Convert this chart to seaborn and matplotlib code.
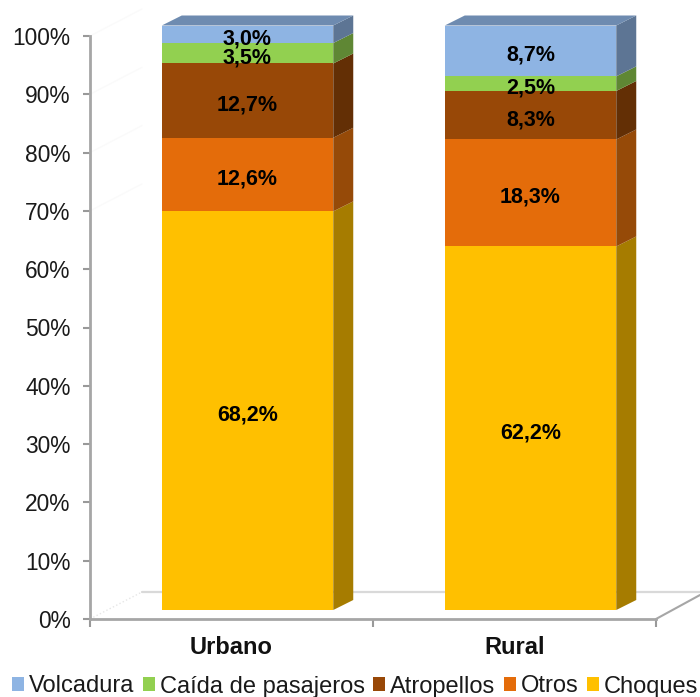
import matplotlib
matplotlib.use("Agg")
import matplotlib.pyplot as plt
from matplotlib.patches import Patch, Polygon
import numpy as np
import seaborn as sns

zonas = ["Urbano", "Rural"]
choques = [68.2, 62.2]
otros = [12.6, 18.3]
atropellos = [12.7, 8.3]
caida = [3.5, 2.5]
volcadura = [3.0, 8.7]
series_names = ["Choques", "Otros", "Atropellos", "Caída de pasajeros", "Volcadura"]
y_ticks = [0, 10, 20, 30, 40, 50, 60, 70, 80, 90, 100]

colors = ["#FFC000", "#E46C0A", "#984807", "#92D050", "#8EB4E3"]
side_colors = ["#A67C00", "#964A08", "#632F05", "#5F8734", "#5D7594"]
top_color = "#6E8BB0"
W, H = 700, 697

sns.set_theme(style="white")
plt.rcParams["font.family"] = ["Liberation Sans", "DejaVu Sans"]

fig = plt.figure(figsize=(W / 100, H / 100), dpi=100)

# main axes only carries the axis lines and tick labels
ax = fig.add_axes([90 / W, 1 - 619 / H, 566 / W, 583 / H])
ax.set_xlim(-0.5, 1.5)
ax.set_ylim(0, 100)
ax.set_yticks(y_ticks)
ax.set_yticklabels([f"{t}%" for t in y_ticks], fontsize=16.4, color="#1a1a1a")
ax.set_xticks([0, 1])
ax.set_xticklabels(zonas, fontsize=17, fontweight="bold", color="#111111")
ax.set_xticks([-0.5, 0.5, 1.5], minor=True)
ax.tick_params(axis="x", which="major", length=0, pad=12)
ax.tick_params(axis="x", which="minor", length=6, width=1.5, color="#999999", bottom=True)
ax.tick_params(axis="y", length=5, width=1.5, color="#999999", pad=9, left=True)
sns.despine(ax=ax)
for s in ["left", "bottom"]:
    ax.spines[s].set_color("#A6A6A6")
    ax.spines[s].set_linewidth(2)

# floor of the 3d box, and the faint wall lines
dx_floor = 52 / 283
dy_floor = 27 / 5.83
ax.plot([-0.5, -0.5 + dx_floor], [0, dy_floor], color="#e6e6e6", lw=1, ls=":", clip_on=False)
ax.plot([-0.5 + dx_floor, 1.5 + 44 / 283], [dy_floor, dy_floor], color="#d9d9d9", lw=1.6, clip_on=False)
ax.plot([1.5, 1.5 + 44 / 283], [0, 24 / 5.83], color="#a6a6a6", lw=1.5, clip_on=False)
for t in y_ticks[7:]:
    ax.plot([-0.5, -0.5 + dx_floor], [t, t + dy_floor], color="#fafafa", lw=1, clip_on=False)

# bars sit on their own axes, shifted to the front plane
ax2 = fig.add_axes([106 / W, 1 - 610 / H, 566 / W, 584.5 / H])
ax2.patch.set_alpha(0)
ax2.axis("off")

stack = [choques, otros, atropellos, caida, volcadura]
bottom = np.zeros(2)
dx = 20 / 283
dy = 10 / 5.845
for vals, name, c, sc in zip(stack, series_names, colors, side_colors):
    vals = np.array(vals)
    sns.barplot(x=zonas, y=vals, bottom=bottom, color=c, saturation=1, width=0.606, ax=ax2, linewidth=0)
    for i in range(2):
        right = i + 0.303
        left = i - 0.303
        y0 = bottom[i]
        y1 = y0 + vals[i]
        ax2.add_patch(Polygon([(right, y0), (right + dx, y0 + dy), (right + dx, y1 + dy), (right, y1)],
                              facecolor=sc, edgecolor="none", clip_on=False))
        if name == "Volcadura":
            ax2.add_patch(Polygon([(left, y1), (left + dx, y1 + dy), (right + dx, y1 + dy), (right, y1)],
                                  facecolor=top_color, edgecolor="none", clip_on=False))
        ax2.annotate(f"{vals[i]:.1f}%".replace(".", ","), (i, (y0 + y1) / 2), xytext=(0, -3.2),
                     textcoords="offset points", ha="center", va="center",
                     fontsize=15.5, fontweight="bold", color="black", annotation_clip=False)
    bottom = bottom + vals
ax2.set_xlim(-0.5, 1.5)
ax2.set_ylim(0, 100)
ax2.axis("off")

handles = [Patch(facecolor=c, edgecolor="none", label=n) for c, n in zip(colors, series_names)][::-1]
fig.legend(handles=handles, ncol=5, loc="center", bbox_to_anchor=(355 / W, 1 - 686.5 / H), frameon=False,
           fontsize=17, handlelength=0.52, handleheight=0.52, handletextpad=0.2,
           columnspacing=0.35, borderpad=0, borderaxespad=0, labelcolor="#1a1a1a")

fig.savefig("out.png", dpi=100)
